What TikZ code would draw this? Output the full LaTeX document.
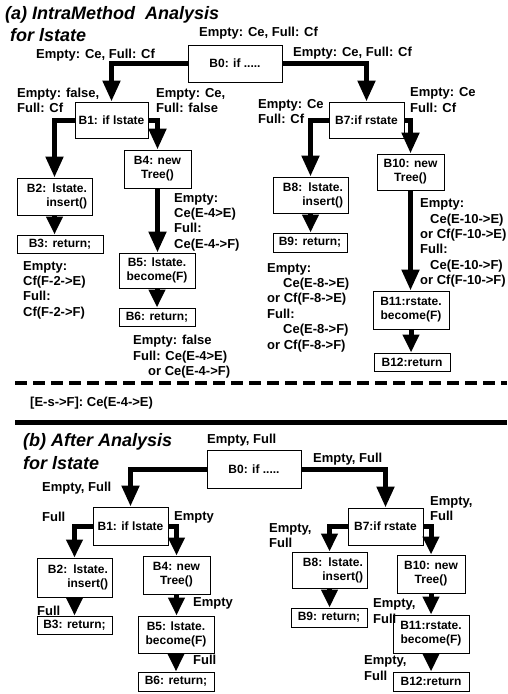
\documentclass[tikz,border=0pt]{standalone}
\usepackage{fontspec}
\setmainfont{Liberation Sans}
\usetikzlibrary{arrows.meta}

\newcommand{\boxfont}{\bfseries\fontsize{12}{14}\selectfont}
\newcommand{\lblfont}{\bfseries\fontsize{13}{15.4}\selectfont}
\newcommand{\ttlfont}{\bfseries\itshape\fontsize{18}{21}\selectfont}

\tikzset{
  blk/.style={draw, line width=1pt, fill=white, font=\boxfont, inner sep=0pt, align=center},
  lbl/.style={font=\lblfont, inner sep=0pt, anchor=west, align=left},
  ttl/.style={font=\ttlfont, inner sep=0pt, anchor=west},
  flow/.style={line width=5pt, -{Triangle[length=21pt,width=17pt]}},
  shortflow/.style={line width=5pt, -{Triangle[length=18pt,width=16pt]}},
}

\begin{document}
\begin{tikzpicture}[x=1pt,y=-1pt]
  \useasboundingbox (0,0) rectangle (507,694);

  % ---------- (a) IntraMethod analysis ----------
  \node[ttl] (ttlA) at (5,15) {(a) IntraMethod\ \ Analysis};
  \node[ttl] (ttlAb) at (10,35) {for lstate};

  % Blocks
  \foreach \nm/\cx/\cy/\bw/\bh/\txt in {a0/235/63.5/94/37/{B0: if .....}, a1/111.5/120/73/36/{B1: if lstate}, a3/60/244/86/18/{B3: return;}, a4/157.5/169/67/38/{B4: new\\Tree()}, a5/157/270.5/76/35/{B5: lstate.\\become(F)}, a6/157/317/76/18/{B6: return;}, a7/366.5/120/75/36/{B7:if rstate}, a9/310/242.5/74/19/{B9: return;}, a10/410.5/172/67/36/{B10: new\\Tree()}, a11/411/310/76/38/{B11:rstate.\\become(F)}, a12/412/362/76/18/{B12:return}}
    \node[blk, minimum width=\bw pt, minimum height=\bh pt] (\nm) at (\cx,\cy) {\txt};
  \node[blk, minimum width=75pt, minimum height=37pt, text width=65pt, align=right] (a2) at (54.5,196.5) {B2: lstate.\\insert()};
  \node[blk, minimum width=75pt, minimum height=36pt, text width=65pt, align=right] (a8) at (310.5,195) {B8: lstate.\\insert()};

  % Connectors
  \draw[flow] (a0.west) -| (a1.north);
  \draw[flow] (a0.east) -| (a7.north);
  \draw[flow] (a1.west) -| (a2.north);
  \draw[flow] (a1.east) -| (a4.north);
  \draw[flow] (a7.west) -| (a8.north);
  \draw[flow] (a7.east) -| (a10.north);
  \draw[flow] (a4.south) -- (a4.south |- a5.north);
  \draw[flow] (a10.south) -- (a10.south |- a11.north);
  \foreach \s/\e in {a2/a3, a5/a6, a8/a9, a11/a12}
    \draw[shortflow] (\s.south) -- (\s.south |- \e.north);

  % Labels
  \node[lbl] (la0) at (199,33) {Empty: Ce, Full: Cf};
  \node[lbl] (la01) at (36,55) {Empty: Ce, Full: Cf};
  \node[lbl] (la07) at (293,53) {Empty: Ce, Full: Cf};
  \node[lbl] (la12) at (17,100.5) {Empty: false,\\Full: Cf};
  \node[lbl] (la14) at (156,100.5) {Empty: Ce,\\Full: false};
  \node[lbl] (la78) at (258,111.5) {Empty: Ce\\Full: Cf};
  \node[lbl] (la710) at (410,100) {Empty: Ce\\Full: Cf};
  \node[lbl] (la3) at (23,290) {Empty:\\Cf(F-2->E)\\Full:\\Cf(F-2->F)};
  \node[lbl] (la45) at (174,222) {Empty:\\Ce(E-4>E)\\Full:\\Ce(E-4->F)};
  \node[lbl] (la6) at (133,357) {Empty: false\\Full: Ce(E-4>E)\\\hspace*{15pt}or Ce(E-4->F)};
  \node[lbl] (la9) at (267,307.5) {Empty:\\\hspace*{16pt}Ce(E-8->E)\\or Cf(F-8->E)\\Full:\\\hspace*{16pt}Ce(E-8->F)\\or Cf(F-8->F)};
  \node[lbl] (la1011) at (420,243) {Empty:\\\hspace*{10pt}Ce(E-10->E)\\or Cf(F-10->E)\\Full:\\\hspace*{10pt}Ce(E-10->F)\\or Cf(F-10->F)};

  % Separators
  \draw[line width=4pt, dash pattern=on 12pt off 6pt] (15,383) -- (507,383);
  \node[lbl] (summary) at (30,403) {[E-s->F]: Ce(E-4->E)};
  \draw[line width=5pt] (15,422) -- (507,422);

  % ---------- (b) After analysis ----------
  \node[ttl] (ttlB) at (23,442) {(b) After Analysis};
  \node[ttl] (ttlBb) at (23,463) {for lstate};

  % Blocks
  \foreach \nm/\cx/\cy/\bw/\bh/\txt in {b0/254/469/94/38/{B0: if .....}, b1/130.5/526/75/38/{B1: if lstate}, b3/74.5/625/75/18/{B3: return;}, b4/176.5/575/67/38/{B4: new\\Tree()}, b5/176/634.5/76/37/{B5: lstate.\\become(F)}, b6/176/681.5/76/19/{B6: return;}, b7/385.5/526.5/75/37/{B7:if rstate}, b9/329/617.5/76/19/{B9: return;}, b10/431/574/68/38/{B10: new\\Tree()}, b11/431/634/76/38/{B11:rstate.\\become(F)}, b12/431/681.5/76/19/{B12:return}}
    \node[blk, minimum width=\bw pt, minimum height=\bh pt] (\nm) at (\cx,\cy) {\txt};
  \node[blk, minimum width=75pt, minimum height=39pt, text width=67pt, align=right] (b2) at (74.5,577.5) {B2: lstate.\\insert()};
  \node[blk, minimum width=75pt, minimum height=36pt, text width=67pt, align=right] (b8) at (329.5,570) {B8: lstate.\\insert()};

  % Connectors
  \draw[flow] (b0.west) -| (b1.north);
  \draw[flow] (b0.east) -| (b7.north);
  \draw[shortflow] (b1.west) -| (b2.north);
  \draw[shortflow] (b1.east) -| (b4.north);
  \draw[shortflow] (b7.west) -| (b8.north);
  \draw[shortflow] (b7.east) -| (b10.north);
  \foreach \s/\e in {b2/b3, b4/b5, b5/b6, b8/b9, b10/b11, b11/b12}
    \draw[shortflow] (\s.south) -- (\s.south |- \e.north);

  % Labels
  \node[lbl] (lb0) at (207,440) {Empty, Full};
  \node[lbl] (lb01) at (42,488) {Empty, Full};
  \node[lbl] (lb07) at (313,459) {Empty, Full};
  \node[lbl] (lb12) at (42,517) {Full};
  \node[lbl] (lb14) at (174,517) {Empty};
  \node[lbl] (lb710) at (430,508.5) {Empty,\\Full};
  \node[lbl] (lb78) at (269,535.5) {Empty,\\Full};
  \node[lbl] (lb23) at (37,611) {Full};
  \node[lbl] (lb45) at (193,603) {Empty};
  \node[lbl] (lb56) at (193,660) {Full};
  \node[lbl] (lb1011) at (373,611) {Empty,\\Full};
  \node[lbl] (lb1112) at (364,668) {Empty,\\Full};
\end{tikzpicture}
\end{document}
